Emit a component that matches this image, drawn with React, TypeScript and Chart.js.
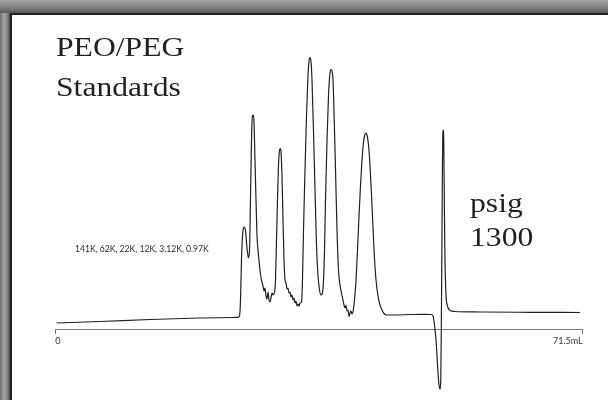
import React, { useEffect, useRef } from "react";
import { Chart, registerables } from "chart.js";

Chart.register(...registerables);

// Elution volume (mL)
const volumeML = [
  0.19, 6.06, 12.84, 19.62, 23.96, 24.77, 24.97, 25.11, 25.24, 25.38, 25.51, 25.65, 25.79, 25.99,
  26.19, 26.33, 26.46, 26.6, 26.73, 26.84, 26.94, 27.07, 27.21, 27.34, 27.55, 27.75, 27.95, 28.16,
  28.29, 28.43, 28.56, 28.7, 28.84, 28.97, 29.11, 29.24, 29.38, 29.51, 29.72, 29.85, 29.99, 30.12,
  30.26, 30.4, 30.5, 30.6, 30.73, 30.87, 31.01, 31.14, 31.28, 31.41, 31.55, 31.68, 31.82, 31.95,
  32.09, 32.23, 32.36, 32.5, 32.63, 32.77, 32.9, 33.04, 33.17, 33.38, 33.51, 33.65, 33.85, 34.06,
  34.26, 34.4, 34.53, 34.67, 34.8, 35.0, 35.21, 35.41, 35.61, 35.82, 36.02, 36.22, 36.36, 36.5,
  36.63, 36.84, 37.04, 37.24, 37.38, 37.51, 37.65, 37.78, 37.99, 38.19, 38.39, 38.6, 38.8, 39.0,
  39.14, 39.28, 39.41, 39.55, 39.68, 39.82, 39.95, 40.09, 40.22, 40.36, 40.56, 40.77, 40.97, 41.18,
  41.38, 41.58, 41.79, 41.95, 42.08, 42.26, 42.46, 42.66, 42.87, 43.07, 43.27, 43.48, 43.75, 44.02,
  44.29, 44.56, 44.9, 46.05, 48.09, 50.12, 50.94, 51.21, 51.41, 51.61, 51.82, 51.95, 52.09, 52.18,
  52.26, 52.33, 52.4, 52.47, 52.53, 52.59, 52.66, 52.74, 52.83, 52.97, 53.17, 53.51, 54.19, 57.58,
  64.36, 71.13,
];

// Detector response (arbitrary units)
const signal = [
  6, 7.5, 9.5, 11, 11.5, 11.7, 13, 29, 69, 93, 101, 102, 98, 81,
  71, 79, 129, 189, 213, 214, 207, 169, 129, 94, 74, 59, 49, 43,
  38, 41, 33, 30, 37, 29, 27, 31, 36, 34, 37, 49, 89, 129,
  164, 179, 180.5, 177, 154, 109, 69, 49, 46, 40, 41, 36, 37, 32,
  34, 29, 31, 26, 28, 23, 25, 23, 26, 27, 49, 99, 159, 214,
  254, 268, 271.5, 267, 249, 199, 139, 84, 54, 39, 34, 36, 49, 79,
  129, 189, 234, 256, 259.5, 258, 249, 219, 159, 99, 59, 44, 36, 29,
  24, 21, 24, 18, 19, 12.5, 16, 18, 15, 17, 29, 49, 79, 114,
  144, 169, 187, 194, 195.7, 194, 184, 164, 134, 101, 71, 49, 33, 24,
  19, 15.5, 14, 14, 14.5, 14.7, 14.5, 13, 4, -11, -36, -51, -59, -60,
  -51, -1, 69, 149, 194, 199, 189, 129, 69, 34, 23, 18.5, 17.5, 17,
  16.7, 16.5,
];

const axisTicks = [0, 71.5];
const axisTickLabels = ["0", "71.5mL"];
const titleLines = ["PEO/PEG", "Standards"];
const pressureLines = ["psig", "1300"];
const standardsNote = "141K, 62K, 22K, 12K, 3.12K, 0.97K";

const serifText: React.CSSProperties = {
  position: "absolute",
  fontFamily: "'Liberation Serif', 'Times New Roman', serif",
  fontSize: 28,
  lineHeight: "28px",
  color: "#231f20",
  whiteSpace: "nowrap",
  transform: "scaleX(1.13)",
  transformOrigin: "left top",
};

export default function App() {
  const canvasRef = useRef<HTMLCanvasElement | null>(null);

  useEffect(() => {
    const canvas = canvasRef.current;
    if (!canvas) return;
    const chart = new Chart(canvas, {
      type: "line",
      data: {
        datasets: [
          {
            data: volumeML.map((x, i) => ({ x, y: signal[i] })),
            borderColor: "#231f20",
            borderWidth: 1.2,
            pointRadius: 0,
            fill: false,
            cubicInterpolationMode: "monotone",
          },
        ],
      },
      options: {
        animation: false,
        responsive: false,
        devicePixelRatio: 1,
        layout: { padding: { left: 55.3, right: 25.3, top: 40, bottom: 10 } },
        plugins: {
          legend: { display: false },
          tooltip: { enabled: false },
          title: { display: false },
        },
        scales: {
          x: {
            type: "linear",
            position: { y: 0 } as any,
            min: 0,
            max: 71.5,
            afterBuildTicks: (scale: any) => {
              scale.ticks = axisTicks.map((v) => ({ value: v }));
            },
            ticks: {
              callback: (value: any) => {
                const i = axisTicks.indexOf(Number(value));
                return i >= 0 ? axisTickLabels[i] : "";
              },
              align: "inner",
              padding: 3,
              color: "#333333",
              font: { family: "Lato", size: 9 },
              maxRotation: 0,
              autoSkip: false,
            },
            grid: {
              drawOnChartArea: false,
              drawTicks: true,
              tickLength: 4,
              color: "#7a7a7a",
              lineWidth: 1,
            },
            border: { display: true, color: "#7a7a7a", width: 1 },
          },
          y: { type: "linear", display: false, min: -61, max: 289 },
        },
      },
    });
    return () => chart.destroy();
  }, []);

  return (
    <div
      style={{
        position: "absolute",
        left: 0,
        top: 0,
        width: 608,
        height: 400,
        background: "#ffffff",
        overflow: "hidden",
      }}
    >
      <div
        style={{
          position: "absolute",
          left: 0,
          top: 0,
          width: 10,
          height: 400,
          background: "linear-gradient(to right, #6e6e6e 0%, #a5a5a5 40%, #8a8a8a 70%, #4a4a4a 100%)",
        }}
      />
      <div
        style={{
          position: "absolute",
          left: 0,
          top: 0,
          width: 608,
          height: 13,
          background: "linear-gradient(to bottom, #a3a4a6 0%, #8a8a8a 45%, #5a5a5a 100%)",
        }}
      />
      <div style={{ position: "absolute", left: 10, top: 13, width: 598, height: 2, background: "#231f20" }} />
      <div style={{ position: "absolute", left: 10, top: 13, width: 2, height: 387, background: "#231f20" }} />

      <canvas
        ref={canvasRef}
        width={608}
        height={400}
        style={{ position: "absolute", left: 0, top: 0, width: 608, height: 400 }}
      />

      <div style={{ ...serifText, left: 56, top: 33 }}>{titleLines[0]}</div>
      <div style={{ ...serifText, left: 56, top: 73 }}>{titleLines[1]}</div>
      <div style={{ ...serifText, left: 470, top: 188.5 }}>{pressureLines[0]}</div>
      <div style={{ ...serifText, left: 470, top: 223 }}>{pressureLines[1]}</div>
      <div
        style={{
          position: "absolute",
          left: 75,
          top: 244,
          fontFamily: "Lato, 'Open Sans', sans-serif",
          fontSize: 8.6,
          lineHeight: "11px",
          color: "#2a2a2a",
          whiteSpace: "nowrap",
        }}
      >
        {standardsNote}
      </div>
    </div>
  );
}
